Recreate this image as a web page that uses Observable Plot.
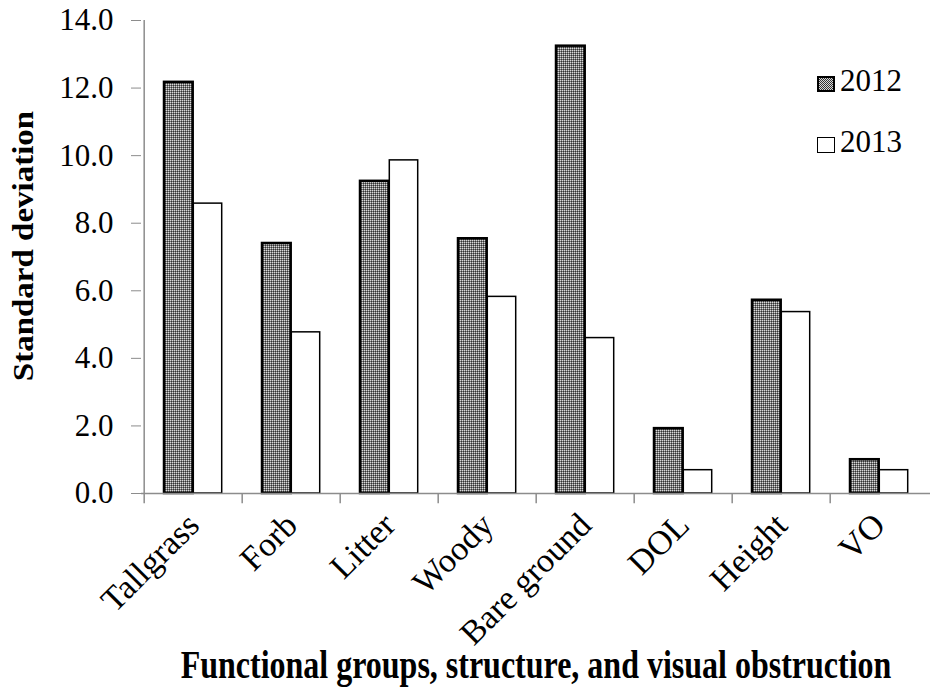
<!DOCTYPE html>
<html><head><meta charset="utf-8">
<script src="https://cdn.jsdelivr.net/npm/d3@7"></script>
<script src="https://cdn.jsdelivr.net/npm/@observablehq/plot@0.6"></script>
<style>
body{margin:0;background:#fff}
#chart{position:relative;width:931px;height:687px;font-family:'Liberation Serif','Times New Roman',serif}
.lg{position:absolute;font-size:31px;line-height:31px;color:#000}
.sw{position:absolute;box-sizing:border-box;width:18px;height:16px;border:2px solid #000}
</style>
</head><body><div id="chart"></div>
<script>
const categories = ["Tallgrass","Forb","Litter","Woody","Bare ground","DOL","Height","VO"];
const sd2012 = [12.17, 7.40, 9.24, 7.54, 13.24, 1.92, 5.72, 1.00];
const sd2013 = [8.58, 4.77, 9.86, 5.82, 4.60, 0.69, 5.37, 0.69];
const years = ["2012","2013"];
const yTicks = [0,2,4,6,8,10,12,14];
const yTitle = "Standard deviation";
const xTitle = "Functional groups, structure, and visual obstruction";

const rows2012 = categories.map((c,i)=>({category:c, value:sd2012[i]}));
const rows2013 = categories.map((c,i)=>({category:c, value:sd2013[i]}));

const W=931, H=687, mL=141, mR=1, mT=20, mB=194;
const step = (W-mL-mR)/categories.length;
const grey = "#8c8c8c";

const plot = Plot.plot({
  width:W, height:H, marginLeft:mL, marginRight:mR, marginTop:mT, marginBottom:mB,
  style:{fontFamily:"'Liberation Serif','Times New Roman',serif", color:"#000", background:"#fff", overflow:"visible"},
  x:{domain:categories, padding:0},
  y:{domain:[0,14]},
  marks:[
    Plot.barY(rows2012,{x:"category", y:"value", fill:"url(#pat2012)", stroke:"#000", strokeWidth:2.5, insetLeft:20, insetRight:49.3}),
    Plot.barY(rows2013,{x:"category", y:"value", fill:"#fff", stroke:"#000", strokeWidth:1.5, insetLeft:49.3, insetRight:20.3}),
    Plot.ruleY([0],{stroke:grey, strokeWidth:1.5}),
    Plot.ruleX(categories.slice(0,1),{x:d=>d, dx:-step/2, y1:-0.3, y2:14, stroke:grey, strokeWidth:1.5}),
    Plot.ruleX(categories.slice(1),{x:d=>d, dx:-step/2, y1:0, y2:-0.3, stroke:grey, strokeWidth:1.5}),
    Plot.axisY({ticks:yTicks, tickFormat:d=>d.toFixed(1), tickSize:10, tickPadding:18, fontSize:31, label:null, stroke:grey}),
    Plot.axisX({tickSize:0, tickRotate:-45, tickPadding:26, fontSize:34, label:null}),
    Plot.text([yTitle],{frameAnchor:"left", dx:-118, dy:-11, rotate:-90, textAnchor:"middle", lineAnchor:"middle", fontWeight:"bold", fontSize:30, text:d=>d, className:"ytitle"}),
    Plot.text([xTitle],{frameAnchor:"bottom", dy:184, lineAnchor:"bottom", fontWeight:"bold", fontSize:32, text:d=>d, className:"xtitle"})
  ]
});

const svg = d3.select(plot);
const defs = svg.insert("defs",":first-child");
const pat = defs.append("pattern").attr("id","pat2012").attr("width",2).attr("height",2).attr("patternUnits","userSpaceOnUse");
pat.append("rect").attr("width",2).attr("height",2).attr("fill","#7a7a7a");
pat.append("rect").attr("width",1).attr("height",1).attr("fill","#d8d8d8");
pat.append("rect").attr("x",1).attr("y",1).attr("width",1).attr("height",1).attr("fill","#333");

// The reference's serif titles are slightly condensed (taller than wide)
svg.selectAll(".xtitle text").each(function(){
  const t = d3.select(this); t.attr("transform", (t.attr("transform")||"") + " scale(1,1.27)");
});
svg.selectAll(".ytitle text").each(function(){
  const t = d3.select(this); t.attr("transform", (t.attr("transform")||"") + " scale(1.1,1)");
});

const chart = document.getElementById("chart");
chart.appendChild(plot);

const patCss = "repeating-conic-gradient(#333 0 25%, #d8d8d8 0 50%) 0 0/2px 2px";
const legendTops = [76, 137];
years.forEach((yr,i)=>{
  const sw = document.createElement("div");
  sw.className = "sw";
  sw.style.left = "817px"; sw.style.top = legendTops[i]+"px";
  sw.style.background = i===0 ? patCss : "#fff";
  if (i===1) sw.style.borderWidth = "1.5px";
  chart.appendChild(sw);
  const t = document.createElement("div");
  t.className = "lg";
  t.textContent = yr;
  t.style.left = "840px"; t.style.top = (legendTops[i]-11)+"px";
  chart.appendChild(t);
});
</script>
</body></html>
